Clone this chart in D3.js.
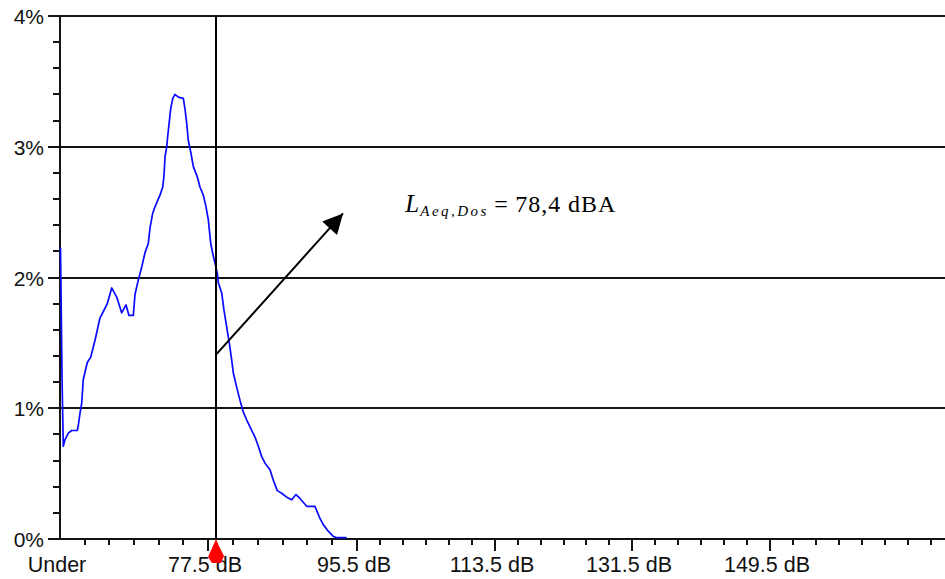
<!DOCTYPE html>
<html>
<head>
<meta charset="utf-8">
<script src="https://cdn.jsdelivr.net/npm/d3@7/dist/d3.min.js"></script>
<style>
  html, body { margin: 0; padding: 0; background: #fff; }
  svg { display: block; }
</style>
</head>
<body>
<script>
// ---------- DATA ----------
// sound level (dB) of each point of the distribution curve
const levelsDb = [
  59.56, 59.75, 59.90, 60.11, 60.51, 60.92, 61.60, 61.73, 61.93, 62.14,
  62.33, 62.82, 63.23, 63.76, 64.36, 64.77, 65.25, 65.79, 66.40, 67.00,
  67.53, 67.89, 68.42, 68.62, 69.02, 69.44, 69.84, 70.24, 70.45, 70.77,
  71.05, 71.66, 71.99, 72.15, 72.27, 72.48, 72.60, 72.79, 72.96, 73.21,
  73.49, 73.89, 74.50, 74.70, 74.91, 75.10, 75.40, 75.71, 76.20, 76.53,
  76.93, 77.26, 77.54, 77.83, 78.15, 78.35, 78.63, 78.75, 79.16, 79.43,
  79.76, 80.07, 80.36, 80.56, 80.97, 81.37, 81.77, 82.18, 82.78, 83.18,
  83.58, 83.99, 84.39, 84.99, 85.39, 85.87, 86.40, 87.01, 87.61, 88.13,
  88.61, 89.42, 90.02, 90.42, 90.94, 91.42, 92.03, 92.63, 93.04, 94.25
];
// share of time (%) at each level
const sharePct = [
  2.23, 1.22, 0.71, 0.76, 0.81, 0.83, 0.83, 0.87, 0.96, 1.04,
  1.22, 1.35, 1.39, 1.52, 1.69, 1.74, 1.80, 1.92, 1.85, 1.73,
  1.79, 1.71, 1.71, 1.87, 1.98, 2.08, 2.19, 2.26, 2.38, 2.49,
  2.54, 2.63, 2.69, 2.78, 2.92, 3.00, 3.08, 3.19, 3.29, 3.37,
  3.40, 3.38, 3.37, 3.29, 3.18, 3.05, 2.96, 2.85, 2.77, 2.69,
  2.63, 2.54, 2.44, 2.26, 2.16, 2.11, 2.03, 1.96, 1.88, 1.75,
  1.62, 1.50, 1.37, 1.27, 1.16, 1.06, 0.97, 0.91, 0.83, 0.78,
  0.71, 0.63, 0.58, 0.53, 0.45, 0.37, 0.35, 0.32, 0.30, 0.34,
  0.31, 0.25, 0.25, 0.25, 0.17, 0.11, 0.06, 0.02, 0.01, 0.01
];
const xTickValues = [59.5, 77.5, 95.5, 113.5, 131.5, 149.5];
const xTickLabels = ["Under", "77.5 dB", "95.5 dB", "113.5 dB", "131.5 dB", "149.5 dB"];
const yTickValues = [0, 1, 2, 3, 4];
const yTickLabels = ["0%", "1%", "2%", "3%", "4%"];
const cursorDb = [78.5];
const laeqLabel = ["L", "Aeq,Dos", "=", "78,4 dBA"];
// annotation arrow: start and tip, in chart units [dB, %]
const arrowStart = [78.47, 1.41];
const arrowTip = [93.81, 2.49];
const labelAnchor = [101.8, 2.50];

// ---------- LAYOUT ----------
const W = 945, H = 579;
const svg = d3.select("body").append("svg").attr("width", W).attr("height", H);

const x = d3.scaleLinear()
  .domain([59.5, 77.5, 95.5, 113.5, 131.5, 149.5])
  .range([60, 208, 357, 495, 632, 770]);
const y = d3.scaleLinear().domain([0, 4]).range([539, 16]);

const axisColor = "#141414";
const sans = "'Liberation Sans', Arial, sans-serif";
const serif = "'Liberation Serif', 'Times New Roman', serif";
const crisp = g => g.attr("shape-rendering", "crispEdges");

// gridlines (1..4 %) with major ticks extending left
svg.append("g").call(crisp).selectAll("line").data(yTickValues.filter(v => v > 0)).join("line")
  .attr("x1", 48).attr("x2", W)
  .attr("y1", d => Math.round(y(d))).attr("y2", d => Math.round(y(d)))
  .attr("stroke", axisColor).attr("stroke-width", 2);

// minor y ticks every 0.2 %
const yMinor = d3.range(0, 4.0001, 0.2).filter(v => Math.abs(v - Math.round(v)) > 1e-6);
svg.append("g").call(crisp).selectAll("line").data(yMinor).join("line")
  .attr("x1", 53).attr("x2", 60)
  .attr("y1", d => Math.round(y(d))).attr("y2", d => Math.round(y(d)))
  .attr("stroke", axisColor).attr("stroke-width", 2);

// 0 % tick
svg.append("line").call(crisp).attr("x1", 48).attr("x2", 60).attr("y1", y(0)).attr("y2", y(0))
  .attr("stroke", axisColor).attr("stroke-width", 2);

// x minor ticks every 3 dB
const xMinor = d3.range(62.5, 175, 3).filter(v => !xTickValues.includes(v));
svg.append("g").call(crisp).selectAll("line").data(xMinor).join("line")
  .attr("x1", d => Math.round(x(d))).attr("x2", d => Math.round(x(d)))
  .attr("y1", y(0)).attr("y2", y(0) + 6)
  .attr("stroke", axisColor).attr("stroke-width", 2);
// x major ticks
svg.append("g").call(crisp).selectAll("line").data(xTickValues.slice(1)).join("line")
  .attr("x1", d => Math.round(x(d))).attr("x2", d => Math.round(x(d)))
  .attr("y1", y(0)).attr("y2", y(0) + 12)
  .attr("stroke", axisColor).attr("stroke-width", 2);

// axes lines
svg.append("line").call(crisp).attr("x1", 60).attr("x2", W).attr("y1", y(0)).attr("y2", y(0))
  .attr("stroke", axisColor).attr("stroke-width", 2);
svg.append("line").call(crisp).attr("x1", 60).attr("x2", 60).attr("y1", y(4)).attr("y2", y(0))
  .attr("stroke", axisColor).attr("stroke-width", 2);

// y labels
svg.append("g").selectAll("text").data(yTickValues).join("text")
  .attr("x", 44).attr("y", d => y(d) + 8)
  .attr("text-anchor", "end")
  .attr("font-family", sans).attr("font-size", 21).attr("fill", "#111")
  .text((d, i) => yTickLabels[i]);

// x labels
svg.append("g").selectAll("text").data(xTickValues).join("text")
  .attr("x", d => x(d) - 3).attr("y", 572)
  .attr("text-anchor", "middle")
  .attr("font-family", sans).attr("font-size", 21.5).attr("fill", "#111")
  .text((d, i) => xTickLabels[i]);

// distribution curve
const pts = levelsDb.map((d, i) => [d, sharePct[i]]);
svg.append("path").datum(pts)
  .attr("d", d3.line().x(d => x(d[0])).y(d => y(d[1])))
  .attr("fill", "none").attr("stroke", "#0a0aff").attr("stroke-width", 1.7)
  .attr("stroke-linejoin", "round");

// cursor line
svg.append("g").call(crisp).selectAll("line").data(cursorDb).join("line")
  .attr("x1", d => Math.round(x(d))).attr("x2", d => Math.round(x(d)))
  .attr("y1", y(4)).attr("y2", y(0))
  .attr("stroke", "#000").attr("stroke-width", 2);

// red cursor marker
svg.append("g").selectAll("path").data(cursorDb).join("path")
  .attr("transform", d => `translate(${Math.round(x(d))},${y(0)})`)
  .attr("d", "M0,0 L3,7 L8,17 L5,24 L-4,24 L-8,18 L-3,7 Z")
  .attr("fill", "#ff0000");

// arrow
const defs = svg.append("defs");
defs.append("marker").attr("id", "ah")
  .attr("viewBox", "0 0 10 10").attr("refX", 10).attr("refY", 5)
  .attr("markerUnits", "userSpaceOnUse")
  .attr("markerWidth", 24).attr("markerHeight", 20)
  .attr("orient", "auto")
  .append("path").attr("d", "M0,0 L10,5 L0,10 Z").attr("fill", "#000");
svg.append("line")
  .attr("x1", x(arrowStart[0])).attr("y1", y(arrowStart[1]))
  .attr("x2", x(arrowTip[0])).attr("y2", y(arrowTip[1]))
  .attr("stroke", "#000").attr("stroke-width", 2)
  .attr("marker-end", "url(#ah)");

// annotation text
const ax = x(labelAnchor[0]), ay = y(labelAnchor[1]);
const ann = svg.append("g").attr("font-family", serif).attr("fill", "#000");
ann.append("text").attr("x", ax).attr("y", ay)
  .attr("font-size", 25).attr("font-style", "italic").text(laeqLabel[0]);
ann.append("text").attr("x", ax + 15).attr("y", ay + 4)
  .attr("font-size", 15).attr("font-style", "italic")
  .attr("textLength", 66).attr("lengthAdjust", "spacing").text(laeqLabel[1]);
ann.append("text").attr("x", ax + 89).attr("y", ay)
  .attr("font-size", 24).text(laeqLabel[2]);
ann.append("text").attr("x", ax + 110).attr("y", ay)
  .attr("font-size", 24)
  .attr("textLength", 100).attr("lengthAdjust", "spacing").text(laeqLabel[3]);
</script>
</body>
</html>
